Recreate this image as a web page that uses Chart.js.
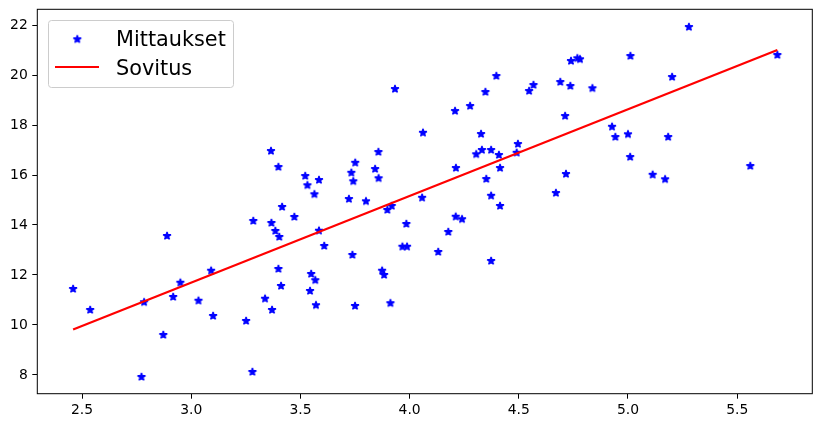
<!DOCTYPE html>
<html>
<head>
<meta charset="utf-8">
<script src="https://cdn.jsdelivr.net/npm/chart.js@4/dist/chart.umd.min.js"></script>
<style>
  html, body { margin: 0; padding: 0; background: #ffffff; }
  #wrap { width: 822px; height: 428px; }
</style>
</head>
<body>
<div id="wrap"><canvas id="c" width="822" height="428"></canvas></div>
<script>
// ---- data ----
const measX = [2.459,2.537,2.784,2.889,2.950,2.917,3.033,3.091,3.100,2.872,2.772,3.365,3.399,3.522,3.532,3.585,3.564,3.416,3.284,3.472,3.367,3.385,3.403,3.585,3.609,3.738,3.399,3.549,3.568,3.411,3.544,3.338,3.722,3.800,3.733,3.751,3.742,3.857,3.842,3.858,4.061,4.057,3.898,3.918,3.985,3.967,3.988,3.874,3.883,3.251,3.280,3.370,3.571,3.750,3.912,4.208,4.277,4.347,4.397,4.327,4.305,4.331,4.373,4.409,4.496,4.490,4.414,4.351,4.212,4.373,4.414,4.211,4.240,4.177,4.131,4.373,4.547,4.567,4.690,4.736,4.739,4.768,4.780,4.837,4.712,4.927,4.942,4.716,4.670,5.279,5.011,5.202,5.684,5.000,5.184,5.010,5.113,5.170,5.560,3.933];
const measY = [11.44,10.60,10.91,13.56,11.69,11.12,10.97,12.17,10.36,9.60,7.92,16.96,16.32,15.96,15.59,15.80,15.23,14.72,14.16,14.32,14.08,13.76,13.52,13.77,13.16,12.80,12.24,12.04,11.79,11.56,11.36,11.05,15.04,14.95,16.09,16.49,15.75,16.92,16.24,15.87,17.69,15.09,14.60,14.76,14.04,13.13,13.13,12.17,12.00,10.16,8.12,10.60,10.79,10.76,10.87,18.56,18.76,19.32,19.96,17.64,16.83,17.00,17.00,16.80,17.24,16.89,16.28,15.84,16.28,15.17,14.76,14.33,14.23,13.72,12.92,12.56,19.36,19.60,19.72,19.56,20.56,20.67,20.63,19.47,18.36,17.93,17.52,16.04,15.28,21.92,20.76,19.92,20.80,17.63,17.52,16.72,16.01,15.83,16.36,19.44];
const fitX = [2.459, 5.684];
const fitY = [9.82, 21.00];
const xTicks = [2.5, 3.0, 3.5, 4.0, 4.5, 5.0, 5.5];
const yTicks = [8, 10, 12, 14, 16, 18, 20, 22];
const seriesNames = ['Mittaukset', 'Sovitus'];

// ---- star marker (filled five-point star) ----
function makeStar(color) {
  const c = document.createElement('canvas');
  c.width = 14; c.height = 14;
  const g = c.getContext('2d');
  const R = 4.1, r = R * 0.381966, cx = 7, cy = 7;
  g.beginPath();
  for (let i = 0; i < 10; i++) {
    const rad = (i % 2 === 0) ? R : r;
    const a = -Math.PI / 2 + i * Math.PI / 5;
    const px = cx + rad * Math.cos(a), py = cy + rad * Math.sin(a);
    if (i === 0) g.moveTo(px, py); else g.lineTo(px, py);
  }
  g.closePath();
  g.fillStyle = color; g.fill();
  g.lineJoin = 'bevel'; g.lineWidth = 1.3; g.strokeStyle = color; g.stroke();
  return c;
}
const starImg = makeStar('#0000ff');

const pts = measX.map((x, i) => ({ x: x, y: measY[i] }));
const fitPts = fitX.map((x, i) => ({ x: x, y: fitY[i] }));

const framePlugin = {
  id: 'frame',
  afterDraw(chart) {
    const ctx = chart.ctx, a = chart.chartArea;
    ctx.save();
    ctx.strokeStyle = '#000000';
    ctx.lineWidth = 1;
    ctx.strokeRect(a.left, a.top, a.right - a.left, a.bottom - a.top);
    // legend
    const bx = 48.5, by = 20.5, bw = 185, bh = 67, rr = 3;
    ctx.beginPath();
    ctx.moveTo(bx + rr, by);
    ctx.lineTo(bx + bw - rr, by); ctx.arcTo(bx + bw, by, bx + bw, by + rr, rr);
    ctx.lineTo(bx + bw, by + bh - rr); ctx.arcTo(bx + bw, by + bh, bx + bw - rr, by + bh, rr);
    ctx.lineTo(bx + rr, by + bh); ctx.arcTo(bx, by + bh, bx, by + bh - rr, rr);
    ctx.lineTo(bx, by + rr); ctx.arcTo(bx, by, bx + rr, by, rr);
    ctx.closePath();
    ctx.fillStyle = 'rgba(255,255,255,0.8)';
    ctx.fill();
    ctx.strokeStyle = '#cccccc';
    ctx.lineWidth = 1;
    ctx.stroke();
    const ds = chart.data.datasets;
    ctx.drawImage(starImg, 77.3 - 7, 39.3 - 7);
    ctx.beginPath();
    ctx.moveTo(55, 67); ctx.lineTo(99, 67);
    ctx.strokeStyle = ds[1].borderColor; ctx.lineWidth = 2.1; ctx.stroke();
    ctx.fillStyle = '#000000';
    ctx.font = '20.8px "DejaVu Sans"';
    ctx.textBaseline = 'alphabetic';
    ctx.textAlign = 'left';
    ctx.fillText(ds[0].label, 116, 45.5);
    ctx.fillText(ds[1].label, 116, 74.5);
    ctx.restore();
  }
};

new Chart(document.getElementById('c'), {
  type: 'scatter',
  data: {
    datasets: [
      {
        label: seriesNames[0],
        data: pts,
        pointStyle: starImg,
        pointRadius: 5,
        pointHoverRadius: 5,
        backgroundColor: '#0000ff',
        borderColor: '#0000ff',
        showLine: false,
        order: 1
      },
      {
        label: seriesNames[1],
        type: 'line',
        data: fitPts,
        borderColor: '#ff0000',
        borderWidth: 2.2,
        pointRadius: 0,
        fill: false,
        tension: 0,
        order: 0
      }
    ]
  },
  options: {
    responsive: false,
    animation: false,
    devicePixelRatio: 1,
    layout: { padding: { left: 0, right: 9.7, top: 9.3, bottom: 0 } },
    plugins: { legend: { display: false }, tooltip: { enabled: false } },
    scales: {
      x: {
        type: 'linear',
        min: 2.295, max: 5.844,
        afterBuildTicks(s) { s.ticks = xTicks.map(v => ({ value: v })); },
        afterFit(s) { s.height = 34.3; s.paddingLeft = 0; s.paddingRight = 0; s.paddingTop = 0; s.paddingBottom = 0; },
        ticks: {
          autoSkip: false,
          maxRotation: 0,
          color: '#000000',
          padding: 3.5,
          font: { family: '"DejaVu Sans"', size: 13.9 },
          callback: v => Number(v).toFixed(1)
        },
        grid: { display: true, drawOnChartArea: false, drawTicks: true, tickLength: 5, color: '#000000', lineWidth: 1 },
        border: { display: false }
      },
      y: {
        type: 'linear',
        min: 7.25, max: 22.63,
        afterBuildTicks(s) { s.ticks = yTicks.map(v => ({ value: v })); },
        afterFit(s) { s.width = 37.3; s.paddingTop = 0; s.paddingBottom = 0; s.paddingLeft = 0; s.paddingRight = 0; },
        ticks: {
          autoSkip: false,
          color: '#000000',
          padding: 4.5,
          font: { family: '"DejaVu Sans"', size: 13.9 },
          callback: v => String(v)
        },
        grid: { display: true, drawOnChartArea: false, drawTicks: true, tickLength: 5, color: '#000000', lineWidth: 1 },
        border: { display: false }
      }
    }
  },
  plugins: [framePlugin]
});
</script>
</body>
</html>
